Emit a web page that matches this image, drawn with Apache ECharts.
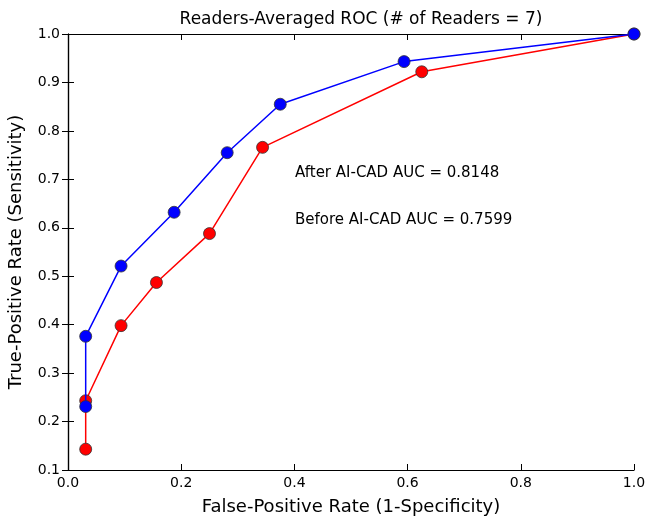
<!DOCTYPE html>
<html>
<head>
<meta charset="utf-8">
<script src="https://cdn.jsdelivr.net/npm/echarts@6/dist/echarts.min.js"></script>
<style>
  html, body { margin: 0; padding: 0; background: #fff; }
  #main { width: 657px; height: 518px; }
</style>
</head>
<body>
<div id="main"></div>
<script>
"use strict"
// data (x = false-positive rate, y = true-positive rate)
const afterPoints = [
    [0.03125, 0.231], [0.03125, 0.376], [0.09375, 0.521], [0.1875, 0.632],
    [0.28125, 0.755], [0.375, 0.855], [0.59375, 0.943], [1.0, 1.0]
];
const beforePoints = [
    [0.03125, 0.143], [0.03125, 0.243], [0.09375, 0.398], [0.15625, 0.487],
    [0.25, 0.588], [0.34375, 0.766], [0.625, 0.922], [1.0, 1.0]
];
const titleText = 'Readers-Averaged ROC (# of Readers = 7)';
const xName = 'False-Positive Rate (1-Specificity)';
const yName = 'True-Positive Rate (Sensitivity)';
const notes = ['After AI-CAD AUC = 0.8148', 'Before AI-CAD AUC = 0.7599'];

const font = 'DejaVu Sans';
const chart = echarts.init(document.getElementById('main'));

function fmt(v) {
    return v.toFixed(1);
}

// tick marks inside, frame on all four sides like matplotlib classic
const tickStyle = { show: true, inside: true, length: 6, lineStyle: { color: '#000', width: 1 } };
const lineStyle = { show: true, lineStyle: { color: '#000', width: 1.2 } };

const option = {
    animation: false,
    backgroundColor: '#fff',
    title: {
        text: titleText,
        left: 356,
        textAlign: 'center',
        top: 6,
        textStyle: { fontFamily: font, fontSize: 17, fontWeight: 'normal', color: '#000' }
    },
    grid: { left: 68, right: 23, top: 34, bottom: 48, outerBoundsMode: 'none' },
    xAxis: [{
        type: 'value', min: 0, max: 1, interval: 0.2,
        name: xName, nameLocation: 'middle', nameGap: 28,
        nameTextStyle: { fontFamily: font, fontSize: 18, color: '#000' },
        axisLine: lineStyle, axisTick: tickStyle, splitLine: { show: false },
        axisLabel: { fontFamily: font, fontSize: 14, color: '#000', margin: 6, formatter: fmt }
    }, {
        type: 'value', min: 0, max: 1, interval: 0.2, position: 'top',
        axisLine: lineStyle, axisTick: tickStyle, splitLine: { show: false },
        axisLabel: { show: false }
    }],
    yAxis: [{
        type: 'value', min: 0.1, max: 1, interval: 0.1,
        name: yName, nameLocation: 'middle', nameGap: 43,
        nameTextStyle: { fontFamily: font, fontSize: 18, color: '#000' },
        axisLine: lineStyle, axisTick: tickStyle, splitLine: { show: false },
        axisLabel: { fontFamily: font, fontSize: 14, color: '#000', margin: 8, formatter: fmt }
    }, {
        type: 'value', min: 0.1, max: 1, interval: 0.1, position: 'right',
        axisLine: lineStyle, axisTick: tickStyle, splitLine: { show: false },
        axisLabel: { show: false }
    }],
    series: [{
        name: 'Before AI-CAD',
        type: 'line',
        data: beforePoints,
        symbol: 'circle',
        symbolSize: 12,
        lineStyle: { color: '#ff0000', width: 1.5 },
        itemStyle: { color: '#ff0000', borderColor: '#333', borderWidth: 0.8 },
        z: 2
    }, {
        name: 'After AI-CAD',
        type: 'line',
        data: afterPoints,
        symbol: 'circle',
        symbolSize: 12,
        lineStyle: { color: '#0000ff', width: 1.5 },
        itemStyle: { color: '#0000ff', borderColor: '#333', borderWidth: 0.8 },
        z: 3
    }],
    graphic: [{
        type: 'text', left: 295, top: 166,
        style: { text: notes[0], font: '15px "DejaVu Sans"', fill: '#000' }
    }, {
        type: 'text', left: 295, top: 213,
        style: { text: notes[1], font: '15px "DejaVu Sans"', fill: '#000' }
    }]
};

chart.setOption(option);
</script>
</body>
</html>
